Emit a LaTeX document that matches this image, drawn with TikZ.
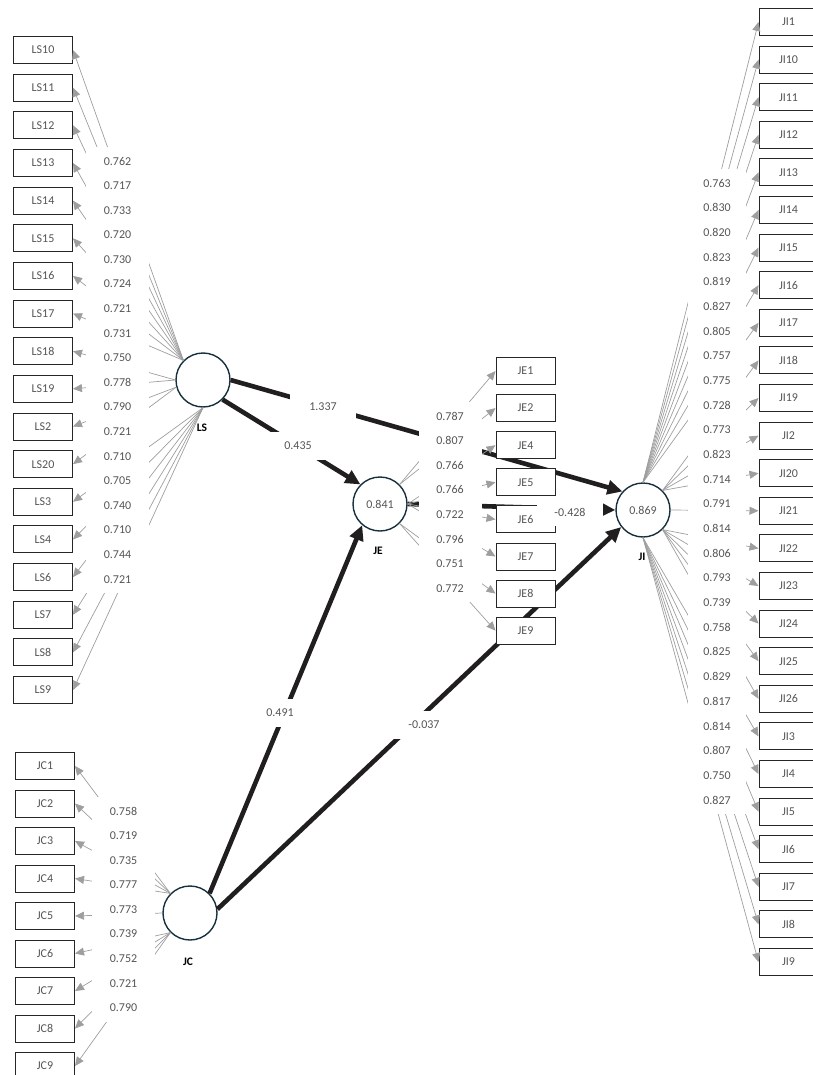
\documentclass[tikz,border=0pt]{standalone}
\usepackage{fontspec}
\setmainfont{Carlito}
\usetikzlibrary{arrows.meta}
\definecolor{loadgray}{RGB}{158,158,160}
\definecolor{numgray}{RGB}{85,85,85}
\definecolor{ringblue}{RGB}{22,48,62}
\definecolor{pathblack}{RGB}{32,30,30}

\begin{document}
\begin{tikzpicture}[x=1pt,y=-1pt,
  latent node/.style={circle,draw=ringblue,line width=1.4pt,minimum size=54pt,inner sep=0pt,text=numgray,font=\fontsize{12}{14}\selectfont},
  item node/.style={rectangle,draw=black!85,fill=white,line width=1pt,minimum width=59pt,minimum height=27pt,inner sep=0pt,text=numgray,font=\fontsize{12}{14}\selectfont},
  load label/.style={fill=white,minimum width=63pt,minimum height=28pt,inner sep=0pt,text=numgray,font=\fontsize{12}{14}\selectfont},
  load edge/.style={draw=loadgray,line width=0.7pt,-{Triangle[length=9pt,width=8pt]}},
  path edge/.style={draw=pathblack,line width=4.6pt,-{Triangle[length=15pt,width=14pt]}},
  lv name/.style={font=\fontsize{11.5}{13}\selectfont\bfseries,text=black}]

 \useasboundingbox (0,0) rectangle (812,1075);

 % latent variables
 \node[latent node] (LS) at (203,380) {};
 \node[latent node] (JC) at (190,913) {};
 \node[latent node] (JE) at (380,504) {0.841};
 \node[latent node] (JI) at (643,510) {0.869};
 \node[lv name] (LSname) at (202,428) {LS};
 \node[lv name] (JCname) at (188,962) {JC};
 \node[lv name] (JEname) at (378,551) {JE};
 \node[lv name] (JIname) at (642,557) {JI};

 % inner model
 \draw[path edge] (LS.east) -- (JI.138);
 \draw[path edge] (LS.-45) -- (JE.135);
 \draw[path edge] (JC.45) -- (JE.230);
 \draw[path edge] (JC.8) -- (JI.218);
 \draw[path edge] (JE.east) -- (JI.west);

 % indicators and outer loadings
 \foreach \name/\ang [count=\i from 0] in {LS10/135,LS11/135,LS12/135,LS13/135,LS14/135,LS15/135,LS16/135,LS17/135,LS18/180,LS19/180,LS2/195,LS20/195,LS3/270,LS4/270,LS6/270,LS7/270,LS8/270,LS9/270}
 {
  \node[item node] (\name) at (43,{50+37.65*\i}) {\name};
  \draw[load edge] (LS.\ang) -- (\name.east);
 }
 \foreach \name/\ang [count=\i from 0] in {JC1/135,JC2/135,JC3/135,JC4/135,JC5/180,JC6/225,JC7/225,JC8/225,JC9/225}
 {
  \node[item node] (\name) at (45,{766+37.5*\i}) {\name};
  \draw[load edge] (JC.\ang) -- (\name.east);
 }
 \foreach \name/\ang [count=\i from 0] in {JE1/45,JE2/45,JE4/0,JE5/0,JE6/0,JE7/0,JE8/-45,JE9/-45}
 {
  \node[item node] (\name) at (525.5,{371+37.1*\i}) {\name};
  \draw[load edge] (JE.\ang) -- (\name.west);
 }
 \foreach \name/\ang [count=\i from 0] in {JI1/90,JI10/90,JI11/90,JI12/90,JI13/90,JI14/90,JI15/90,JI16/90,JI17/90,JI18/45,JI19/45,JI2/45,JI20/45,JI21/0,JI22/-45,JI23/-45,JI24/-45,JI25/-45,JI26/-45,JI3/-90,JI4/-90,JI5/-90,JI6/-90,JI7/-90,JI8/-90,JI9/-90}
 {
  \node[item node] (\name) at (788.5,{22+37.6*\i}) {\name};
  \draw[load edge] (JI.\ang) -- (\name.west);
 }

 % coefficients
 \foreach \val [count=\i from 0] in {0.762,0.717,0.733,0.720,0.730,0.724,0.721,0.731,0.750,0.778,0.790,0.721,0.710,0.705,0.740,0.710,0.744,0.721}
  \node[load label] (ls\i) at (117.5,{161+24.6*\i}) {\val};
 \foreach \val [count=\i from 0] in {0.758,0.719,0.735,0.777,0.773,0.739,0.752,0.721,0.790}
  \node[load label] (jc\i) at (123.5,{811+24.6*\i}) {\val};
 \foreach \val [count=\i from 0] in {0.787,0.807,0.766,0.766,0.722,0.796,0.751,0.772}
  \node[load label] (je\i) at (450,{416+24.6*\i}) {\val};
 \foreach \val [count=\i from 0] in {0.763,0.830,0.820,0.823,0.819,0.827,0.805,0.757,0.775,0.728,0.773,0.823,0.714,0.791,0.814,0.806,0.793,0.739,0.758,0.825,0.829,0.817,0.814,0.807,0.750,0.827}
  \node[load label,minimum width=58pt] (ji\i) at (717,{183+24.68*\i}) {\val};

 \node[load label,minimum width=66pt] (b1) at (323,407) {1.337};
 \node[load label,minimum width=66pt] (b2) at (298,446) {0.435};
 \node[load label,minimum width=66pt] (b3) at (570,512) {-0.428};
 \node[load label,minimum width=66pt] (b4) at (280,713) {0.491};
 \node[load label,minimum width=66pt] (b5) at (424,725) {-0.037};
\end{tikzpicture}
\end{document}
